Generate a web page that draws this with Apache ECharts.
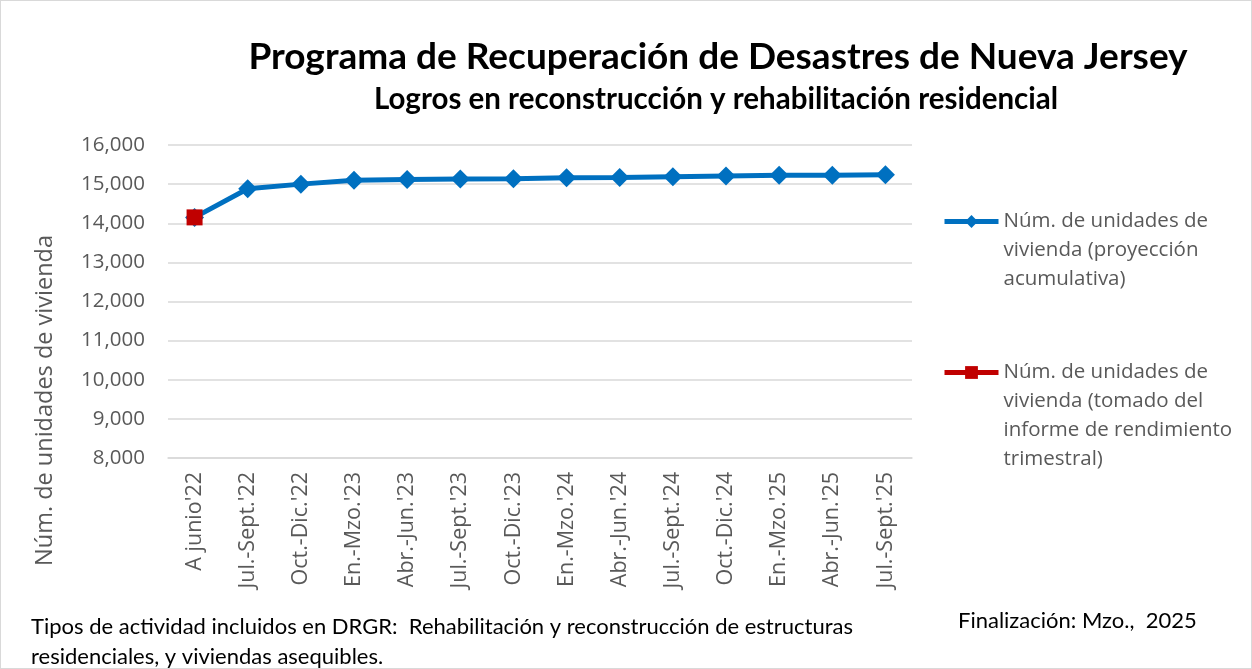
<!DOCTYPE html>
<html>
<head>
<meta charset="utf-8">
<script src="https://cdn.jsdelivr.net/npm/echarts@6/dist/echarts.min.js"></script>
<style>
  html, body { margin: 0; padding: 0; background: #fff; }
  #chart { width: 1252px; height: 669px; box-sizing: border-box; border: 1px solid #d9d9d9; }
</style>
</head>
<body>
<div id="chart"></div>
<script>
// categories (quarters)
var quarters = ["A junio'22", "Jul.-Sept.'22", "Oct.-Dic.'22", "En.-Mzo.'23", "Abr.-Jun.'23",
    "Jul.-Sept.'23", "Oct.-Dic.'23", "En.-Mzo.'24", "Abr.-Jun.'24", "Jul.-Sept.'24",
    "Oct.-Dic.'24", "En.-Mzo.'25", "Abr.-Jun.'25", "Jul.-Sept.'25"];

// projected cumulative units
var projected = [14150, 14880, 15000, 15100, 15120, 15130, 15140, 15160, 15170, 15190, 15210, 15230, 15230, 15240];

// reported (quarterly performance report)
var reported = [14150, null, null, null, null, null, null, null, null, null, null, null, null, null];

var nameProjected = 'Núm. de unidades de\nvivienda (proyección\nacumulativa)';
var nameReported = 'Núm. de unidades de\nvivienda (tomado del\ninforme de rendimiento\ntrimestral)';

var grey = '#595959';
var font = 'Open Sans';

var legendText = {
    color: grey,
    fontFamily: font,
    fontSize: 20.5,
    lineHeight: 29
};

// blank lines in front push the first text line level with the icon
function padTop(name) {
    var n = name.split('\n').length - 1;
    return new Array(n + 1).join('\n') + name;
}

var opts = {
    animation: false,
    title: [
        {
            text: 'Programa de Recuperación de Desastres de Nueva Jersey',
            left: 712, top: 33, textAlign: 'center',
            textStyle: { fontFamily: 'Lato', fontWeight: 'bold', fontSize: 37, color: '#000' }
        },
        {
            text: 'Logros en reconstrucción y rehabilitación residencial',
            left: 710, top: 78, textAlign: 'center',
            textStyle: { fontFamily: 'Lato', fontWeight: 'bold', fontSize: 29.5, color: '#000' }
        }
    ],
    legend: [
        {
            orient: 'vertical',
            left: 936, top: 143,
            itemWidth: 54, itemHeight: 16,
            lineStyle: { width: 5 },
            data: [nameProjected],
            formatter: padTop,
            textStyle: legendText
        },
        {
            orient: 'vertical',
            left: 936, top: 265,
            itemWidth: 54, itemHeight: 16,
            lineStyle: { width: 5 },
            data: [nameReported],
            formatter: padTop,
            textStyle: legendText
        }
    ],
    grid: { left: 167, right: 339, top: 144, bottom: 210 },
    xAxis: {
        type: 'category',
        data: quarters,
        axisLine: { lineStyle: { color: '#d9d9d9', width: 1.5 } },
        axisTick: { show: false },
        axisLabel: { rotate: 90, margin: 14, color: grey, fontFamily: font, fontSize: 21.5, interval: 0 }
    },
    yAxis: {
        type: 'value',
        min: 8000, max: 16000, interval: 1000,
        name: 'Núm. de unidades de vivienda',
        nameLocation: 'middle',
        nameRotate: 90,
        nameGap: 111,
        nameTextStyle: { color: grey, fontFamily: font, fontSize: 23.5, padding: [0, 198, 0, 0] },
        axisLine: { show: false },
        axisTick: { show: false },
        axisLabel: {
            color: grey, fontFamily: font, fontSize: 20.5, margin: 23,
            formatter: function (v) { return v.toLocaleString('en-US'); }
        },
        splitLine: { lineStyle: { color: '#d9d9d9', width: 1.5 } }
    },
    series: [
        {
            name: nameProjected,
            type: 'line',
            data: projected,
            symbol: 'diamond',
            symbolSize: 19,
            itemStyle: { color: '#0070C0' },
            lineStyle: { color: '#0070C0', width: 5 }
        },
        {
            name: nameReported,
            type: 'line',
            data: reported,
            symbol: 'rect',
            symbolSize: 16,
            itemStyle: { color: '#C00000' },
            lineStyle: { color: '#C00000', width: 5 }
        }
    ],
    graphic: [
        {
            type: 'text', left: 30, top: 611,
            style: {
                text: 'Tipos de actividad incluidos en DRGR:  Rehabilitación y reconstrucción de estructuras\nresidenciales, y viviendas asequibles.',
                fill: '#000', font: '22px Lato', lineHeight: 30
            }
        },
        {
            type: 'text', left: 957, top: 609,
            style: { text: 'Finalización: Mzo.,  2025', fill: '#000', font: '22px Lato' }
        }
    ]
};

echarts.init(document.getElementById('chart')).setOption(opts);
</script>
</body>
</html>
